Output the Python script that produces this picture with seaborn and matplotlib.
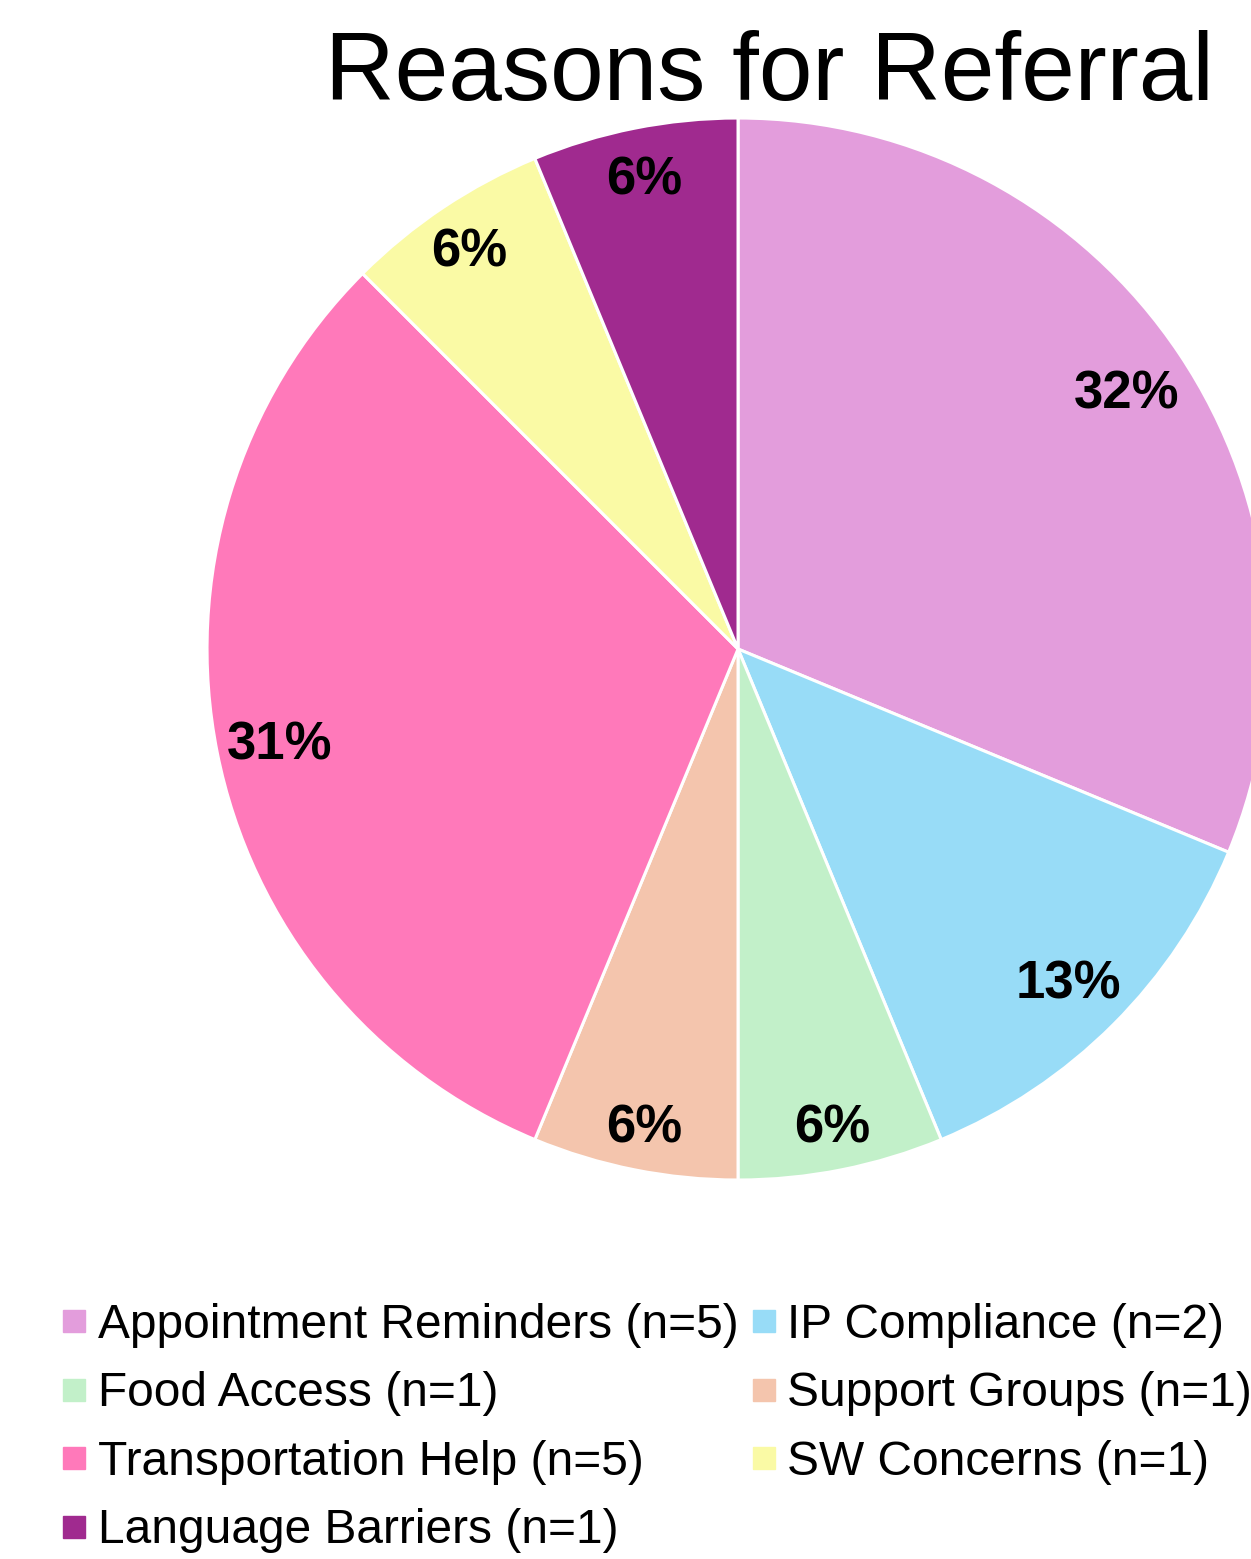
import matplotlib
matplotlib.use("Agg")
import matplotlib.pyplot as plt
from matplotlib.lines import Line2D
import seaborn as sns

# Data
reasons = ["Appointment Reminders", "IP Compliance", "Food Access", "Support Groups",
           "Transportation Help", "SW Concerns", "Language Barriers"]
counts = [5, 2, 1, 1, 5, 1, 1]
pct_labels = ["32%", "13%", "6%", "6%", "31%", "6%", "6%"]
colors = ["#E39DDC", "#98DCF7", "#C2F0C9", "#F4C5AD", "#FF79BA", "#FAFAA5", "#A02A8F"]

sns.set_theme(style="white")
plt.rcParams["font.family"] = ["Liberation Sans", "DejaVu Sans"]
plt.rcParams["text.color"] = "black"

palette = sns.color_palette(colors)

fig = plt.figure(figsize=(12.51, 15.59), dpi=100)
ax = fig.add_axes([0.1655, 0.2431, 0.8489, 0.6812])

label_iter = iter(pct_labels)
wedges, texts, autotexts = ax.pie(
    counts, colors=palette, startangle=90, counterclock=False,
    autopct=lambda p: next(label_iter), pctdistance=0.88,
    wedgeprops=dict(edgecolor="white", linewidth=2.2),
    textprops=dict(fontsize=38, fontweight="bold", color="black"))
# small slices get their labels pushed a bit further out
total = sum(counts)
for t, n in zip(autotexts, counts):
    t.set_va("center_baseline")
    if n / total < 0.1:
        x, y = t.get_position()
        t.set_position((x * 0.91 / 0.88, y * 0.91 / 0.88))
for w in wedges:
    w.set_clip_on(False)
ax.set_xlim(-1, 1)
ax.set_ylim(-1, 1)
ax.set_aspect("equal")
ax.axis("off")

fig.text(0.615, 1 - 100 / 1559, "Reasons for Referral", fontsize=69.4,
         ha="center", va="baseline", color="black")

# legend, filled row-wise like the original
handles = [Line2D([], [], marker="s", linestyle="", markersize=16,
                  markerfacecolor=c, markeredgecolor=c) for c in palette]
labels = [f"{r} (n={n})" for r, n in zip(reasons, counts)]
order = [0, 2, 4, 6, 1, 3, 5]
fig.legend([handles[i] for i in order], [labels[i] for i in order],
           ncol=2, loc="upper left", bbox_to_anchor=(37 / 1251, 1 - 1279 / 1559),
           frameon=False, fontsize=34.5, borderpad=0, handlelength=0.55,
           handletextpad=0.22, columnspacing=0.25, labelspacing=0.49,
           labelcolor="black")

fig.savefig("out.png", dpi=100)
